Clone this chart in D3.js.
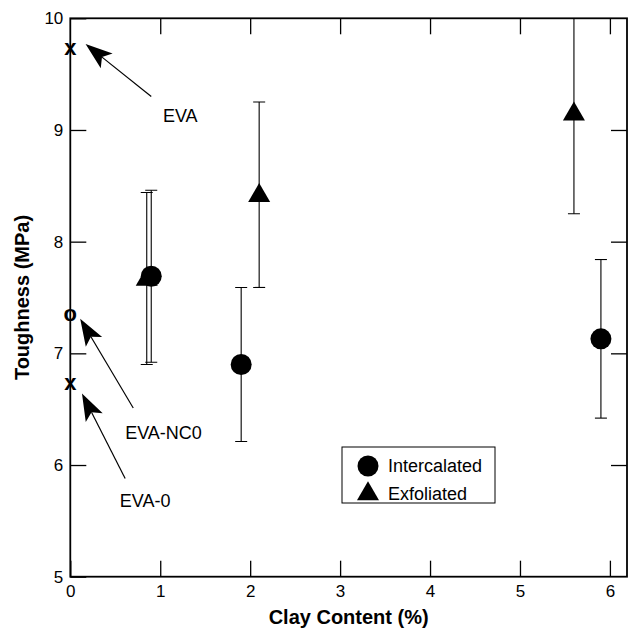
<!DOCTYPE html>
<html>
<head>
<meta charset="utf-8">
<script src="https://cdn.jsdelivr.net/npm/d3@7"></script>
<style>
  html, body { margin: 0; padding: 0; background: #fff; }
  svg { display: block; font-family: 'Liberation Sans', Arial, sans-serif; }
</style>
</head>
<body>
<div id="chart"></div>
<script>
// data
const intercalatedX = [0.9, 1.9, 5.9];
const intercalatedY = [7.69, 6.90, 7.13];
const intercalatedErr = [0.77, 0.69, 0.71];

const exfoliatedX = [0.85, 2.1, 5.6];
const exfoliatedY = [7.67, 8.42, 9.15];
const exfoliatedErr = [0.77, 0.83, 0.9];

// neat polymers at 0 % clay
const refNames = ['EVA', 'EVA-NC0', 'EVA-0'];
const refY = [9.73, 7.35, 6.73];
const refSymbols = ['x', 'o', 'x'];
// arrow tip, arrow tail, label (data units)
const refTip = [[0.17, 9.77], [0.11, 7.31], [0.13, 6.64]];
const refTail = [[0.90, 9.30], [0.70, 6.51], [0.61, 5.88]];
const refLabel = [[1.03, 9.07], [0.61, 6.23], [0.55, 5.62]];

const xTicks = [0, 1, 2, 3, 4, 5, 6];
const yTicks = [5, 6, 7, 8, 9, 10];

const width = 631;
const height = 634;
const margin = { top: 18.3, right: 4, bottom: 57.3, left: 70.3 };

const x = d3.scaleLinear().domain([0, 6.19]).range([margin.left, width - margin.right]);
const y = d3.scaleLinear().domain([5, 10]).range([height - margin.bottom, margin.top]);

const svg = d3.select('#chart').append('svg')
  .attr('width', width)
  .attr('height', height);

svg.append('defs').append('clipPath').attr('id', 'plot')
  .append('rect')
  .attr('x', x.range()[0]).attr('y', y.range()[1])
  .attr('width', x.range()[1] - x.range()[0])
  .attr('height', y.range()[0] - y.range()[1]);

// axes, ticks inside on all four sides
const tickLen = 16;
const fmt = d3.format('d');
svg.append('g')
  .attr('transform', `translate(0,${y(5)})`)
  .call(d3.axisBottom(x).tickValues(xTicks).tickFormat(fmt).tickSizeInner(-tickLen).tickSizeOuter(0).tickPadding(8))
  .call(g => g.select('.domain').remove())
  .call(g => g.selectAll('text').attr('font-size', 17).attr('fill', '#000').attr('font-family', 'Liberation Sans, Arial, sans-serif'));

svg.append('g')
  .attr('transform', `translate(0,${y(10)})`)
  .call(d3.axisTop(x).tickValues(xTicks.slice(1)).tickSizeInner(-tickLen).tickSizeOuter(0).tickFormat(''))
  .call(g => g.select('.domain').remove());

svg.append('g')
  .attr('transform', `translate(${x(0)},0)`)
  .call(d3.axisLeft(y).tickValues(yTicks).tickFormat(fmt).tickSizeInner(-tickLen).tickSizeOuter(0).tickPadding(7))
  .call(g => g.select('.domain').remove())
  .call(g => g.selectAll('text').attr('font-size', 17).attr('fill', '#000').attr('font-family', 'Liberation Sans, Arial, sans-serif'));

svg.append('g')
  .attr('transform', `translate(${x.range()[1]},0)`)
  .call(d3.axisRight(y).tickValues(yTicks.slice(1, -1)).tickSizeInner(-tickLen).tickSizeOuter(0).tickFormat(''))
  .call(g => g.select('.domain').remove());

svg.selectAll('.tick line').attr('stroke', '#000').attr('stroke-width', 1.3);

// frame
svg.append('rect')
  .attr('x', x.range()[0]).attr('y', y.range()[1])
  .attr('width', x.range()[1] - x.range()[0])
  .attr('height', y.range()[0] - y.range()[1])
  .attr('fill', 'none')
  .attr('stroke', '#000')
  .attr('stroke-width', 1.8);

// axis titles
svg.append('text')
  .attr('x', (x.range()[0] + x.range()[1]) / 2)
  .attr('y', 624)
  .attr('text-anchor', 'middle')
  .attr('font-size', 20)
  .attr('font-weight', 'bold')
  .text('Clay Content (%)');

svg.append('text')
  .attr('transform', `translate(29,${(y.range()[0] + y.range()[1]) / 2}) rotate(-90)`)
  .attr('text-anchor', 'middle')
  .attr('font-size', 20)
  .attr('font-weight', 'bold')
  .text('Toughness (MPa)');

const inter = intercalatedX.map((d, i) => ({ x: d, y: intercalatedY[i], e: intercalatedErr[i] }));
const exfo = exfoliatedX.map((d, i) => ({ x: d, y: exfoliatedY[i], e: exfoliatedErr[i] }));

const plot = svg.append('g').attr('clip-path', 'url(#plot)');
const capW = 6;

function errorBars(data) {
  const g = plot.append('g').attr('stroke', '#000').attr('stroke-width', 1.1);
  g.selectAll('line.v').data(data).join('line')
    .attr('x1', d => x(d.x)).attr('x2', d => x(d.x))
    .attr('y1', d => y(d.y + d.e)).attr('y2', d => y(d.y - d.e));
  g.selectAll('line.top').data(data).join('line')
    .attr('x1', d => x(d.x) - capW).attr('x2', d => x(d.x) + capW)
    .attr('y1', d => y(d.y + d.e)).attr('y2', d => y(d.y + d.e));
  g.selectAll('line.bot').data(data).join('line')
    .attr('x1', d => x(d.x) - capW).attr('x2', d => x(d.x) + capW)
    .attr('y1', d => y(d.y - d.e)).attr('y2', d => y(d.y - d.e));
}
errorBars(exfo);
errorBars(inter);

const tri = d3.symbol().type(d3.symbolTriangle).size(210);
plot.append('g').selectAll('path').data(exfo).join('path')
  .attr('transform', d => `translate(${x(d.x)},${y(d.y) + 1})`)
  .attr('d', tri)
  .attr('fill', '#000');

plot.append('g').selectAll('circle').data(inter).join('circle')
  .attr('cx', d => x(d.x))
  .attr('cy', d => y(d.y))
  .attr('r', 10.5)
  .attr('fill', '#000');

// reference markers at 0 %
svg.append('g').selectAll('text').data(refY).join('text')
  .attr('x', x(0))
  .attr('y', d => y(d))
  .attr('dy', '0.3em')
  .attr('text-anchor', 'middle')
  .attr('font-size', 22)
  .attr('font-weight', 'bold')
  .text((d, i) => refSymbols[i]);

// arrows and labels
const ann = svg.append('g');
refNames.forEach((name, i) => {
  const [tx, ty] = [x(refTip[i][0]), y(refTip[i][1])];
  const [sx, sy] = [x(refTail[i][0]), y(refTail[i][1])];
  const ang = Math.atan2(sy - ty, sx - tx);
  const ux = Math.cos(ang), uy = Math.sin(ang);
  const px = -uy, py = ux;
  const len = 27, half = 9.5, notch = 21;
  ann.append('line')
    .attr('x1', tx + ux * notch).attr('y1', ty + uy * notch)
    .attr('x2', sx).attr('y2', sy)
    .attr('stroke', '#000').attr('stroke-width', 1.2);
  ann.append('path')
    .attr('d', d3.line()([
      [tx, ty],
      [tx + ux * len + px * half, ty + uy * len + py * half],
      [tx + ux * notch, ty + uy * notch],
      [tx + ux * len - px * half, ty + uy * len - py * half]
    ]) + 'Z')
    .attr('fill', '#000');
  ann.append('text')
    .attr('x', x(refLabel[i][0]))
    .attr('y', y(refLabel[i][1]))
    .attr('font-size', 18)
    .text(name);
});

// legend
const legend = svg.append('g').attr('transform', 'translate(342,447)');
legend.append('rect')
  .attr('width', 153).attr('height', 56)
  .attr('fill', '#fff').attr('stroke', '#000').attr('stroke-width', 1);
legend.append('circle').attr('cx', 26).attr('cy', 19).attr('r', 10.5).attr('fill', '#000');
legend.append('path').attr('transform', 'translate(26,47)').attr('d', tri).attr('fill', '#000');
legend.append('text').attr('x', 46).attr('y', 25).attr('font-size', 18).text('Intercalated');
legend.append('text').attr('x', 46).attr('y', 53).attr('font-size', 18).text('Exfoliated');
</script>
</body>
</html>
